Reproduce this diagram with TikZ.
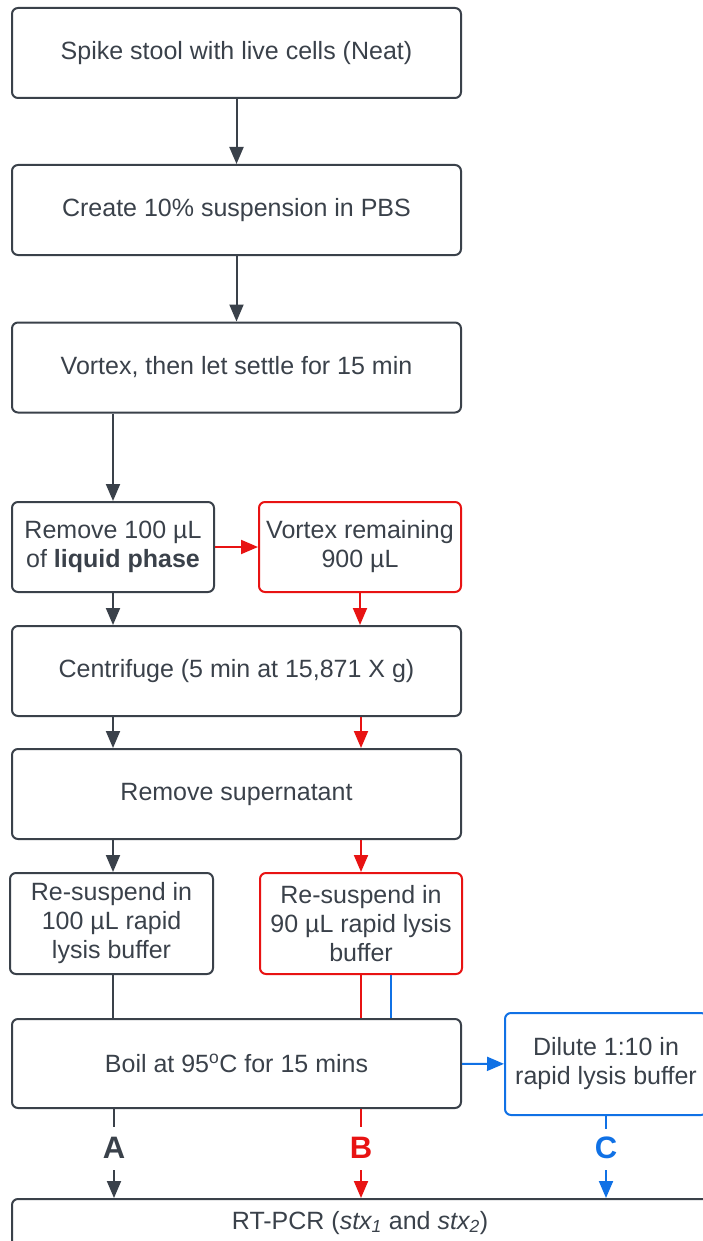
\documentclass[tikz,border=0pt]{standalone}
\usepackage{fontspec}
\setmainfont{Liberation Sans}
\usetikzlibrary{arrows.meta}
\definecolor{darkline}{HTML}{3A414A}
\definecolor{redline}{HTML}{E81313}
\definecolor{blueline}{HTML}{1071E5}
\tikzset{
  stepbox/.style={draw=darkline, text=darkline, line width=2pt, rounded corners=6pt,
    align=center, minimum width=449pt, minimum height=90pt, inner sep=0pt,
    font=\fontsize{25}{29}\selectfont},
  halfbox/.style={stepbox, minimum width=202pt},
  flow/.style={line width=2pt, -{Triangle[length=17pt,width=14pt]}},
  branch/.style={font=\fontsize{31}{31}\selectfont\bfseries, inner sep=0pt}
}
\begin{document}
\begin{tikzpicture}[x=1pt,y=-1pt]
  \useasboundingbox (0,0) rectangle (703,1241);
  \clip (0,0) rectangle (703,1241);
  % main column
  \node[stepbox] (spike) at (236.5,53) {Spike stool with live cells (Neat)};
  \node[stepbox] (create) at (236.5,210) {Create 10\% suspension in PBS};
  \node[stepbox] (vortex) at (236.5,367.5) {Vortex, then let settle for 15 min};
  \node[halfbox] (remove) at (113,547) {Remove 100 µL\\of \textbf{liquid phase}};
  \node[halfbox, draw=redline] (vortexrem) at (360,547) {Vortex remaining\\900 µL};
  \node[stepbox] (centri) at (236.5,671) {Centrifuge (5 min at 15,871 X g)};
  \node[stepbox] (super) at (236.5,794) {Remove supernatant};
  \node[halfbox, minimum width=203pt, minimum height=101pt] (resusa) at (111.5,923.5)
    {Re-suspend in\\100 µL rapid\\lysis buffer};
  \node[halfbox, minimum height=101pt, draw=redline] (resusb) at (361,923.5)
    {Re-suspend in\\90 µL rapid lysis\\buffer};
  \node[stepbox, minimum height=89pt] (boil) at (236.5,1063.5)
    {Boil at 95\textsuperscript{o}C for 15 mins};
  \node[halfbox, minimum height=102pt, draw=blueline] (dilute) at (606,1064)
    {Dilute 1:10 in\\rapid lysis buffer};
  \node[stepbox, anchor=north, minimum width=696pt, minimum height=0pt,
    text height=18pt, text depth=40pt, inner ysep=12pt] (rt) at (360,1198)
    {RT-PCR (\textit{stx\textsubscript{1}} and \textit{stx\textsubscript{2}})};
  % branch labels
  \node[branch, text=darkline] (A) at (114,1148) {A};
  \node[branch, text=redline] (B) at (361,1148) {B};
  \node[branch, text=blueline] (C) at (606,1148) {C};
  % connectors
  \draw[flow, darkline] (spike) -- (create);
  \draw[flow, darkline] (create) -- (vortex);
  \draw[flow, darkline] (vortex.south -| remove) -- (remove);
  \draw[flow, redline] (remove) -- (vortexrem);
  \draw[flow, darkline] (remove) -- (remove |- centri.north);
  \draw[flow, redline] (vortexrem) -- (vortexrem |- centri.north);
  \draw[flow, darkline] (centri.south -| remove) -- (remove |- super.north);
  \draw[flow, redline] (centri.south -| resusb) -- (resusb |- super.north);
  \draw[flow, darkline] (super.south -| remove) -- (remove |- resusa.north);
  \draw[flow, redline] (super.south -| resusb) -- (resusb |- resusa.north);
  \draw[line width=2pt, darkline] (resusa.south -| remove) -- (remove |- boil.north);
  \draw[line width=2pt, redline] (resusb) -- (resusb |- boil.north);
  \draw[line width=2pt, blueline] ([xshift=30pt]resusb.south) -- ([xshift=30pt]resusb.south |- boil.north);
  \draw[flow, blueline] (boil) -- (dilute);
  \draw[line width=2pt, darkline] (boil.south -| A) -- ([yshift=21pt]A.center);
  \draw[flow, darkline] ([yshift=-22pt]A.center) -- (rt.north -| A);
  \draw[line width=2pt, redline] (boil.south -| B) -- ([yshift=21pt]B.center);
  \draw[flow, redline] ([yshift=-22pt]B.center) -- (rt.north -| B);
  \draw[line width=2pt, blueline] (dilute) -- ([yshift=19pt]C.center);
  \draw[flow, blueline] ([yshift=-22pt]C.center) -- (rt.north -| C);
\end{tikzpicture}
\end{document}
